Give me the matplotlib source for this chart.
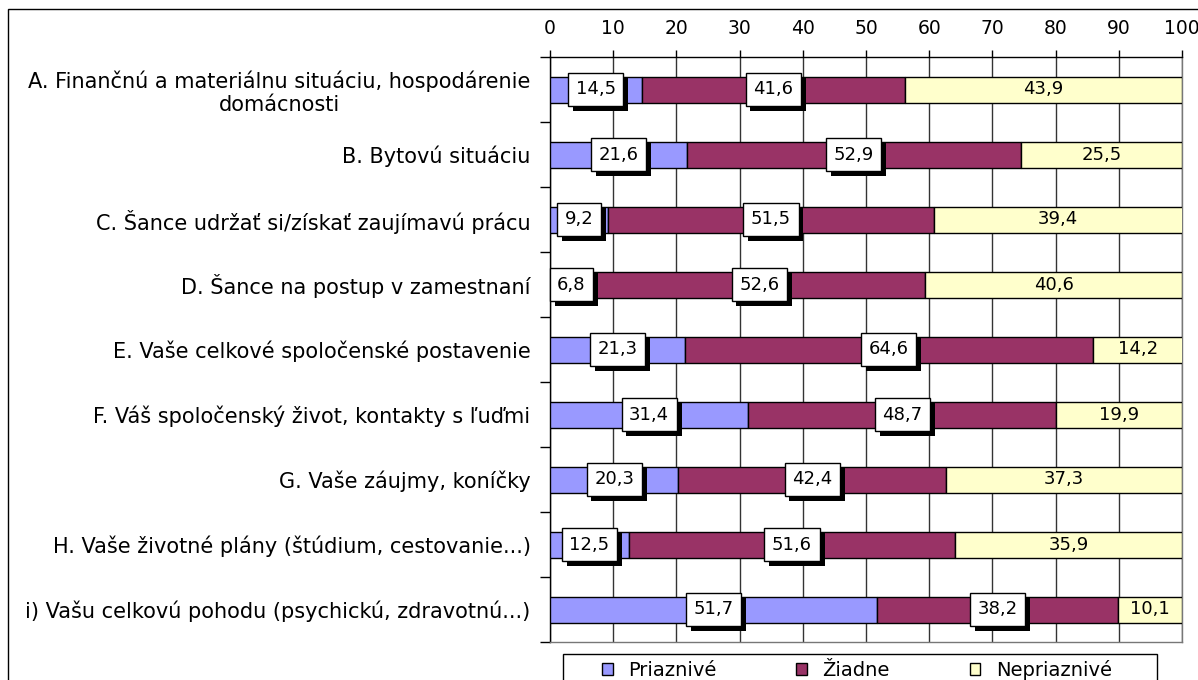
import matplotlib.pyplot as plt
import matplotlib.patheffects as pe
from matplotlib.patches import Patch, Rectangle

plt.rcParams['font.family'] = ['DejaVu Sans']

categories = [
    'A. Finančnú a materiálnu situáciu, hospodárenie\ndomácnosti',
    'B. Bytovú situáciu',
    'C. Šance udržať si/získať zaujímavú prácu',
    'D. Šance na postup v zamestnaní',
    'E. Vaše celkové spoločenské postavenie',
    'F. Váš spoločenský život, kontakty s ľuďmi',
    'G. Vaše záujmy, koníčky',
    'H. Vaše životné plány (štúdium, cestovanie...)',
    'i) Vašu celkovú pohodu (psychickú, zdravotnú...)',
]
priaznive = [14.5, 21.6, 9.2, 6.8, 21.3, 31.4, 20.3, 12.5, 51.7]
ziadne = [41.6, 52.9, 51.5, 52.6, 64.6, 48.7, 42.4, 51.6, 38.2]
nepriaznive = [43.9, 25.5, 39.4, 40.6, 14.2, 19.9, 37.3, 35.9, 10.1]
series_names = ['Priaznivé', 'Žiadne', 'Nepriaznivé']
colors = ['#9999FF', '#993366', '#FFFFCC']

fig = plt.figure(figsize=(11.98, 6.8), dpi=100)
ax = fig.add_axes([550 / 1198, 1 - 642 / 680, 632 / 1198, 585 / 680])

# black drop shadow under the label boxes
shadow = [pe.SimplePatchShadow(offset=(3.5, -3.5), shadow_rgbFace='black', alpha=1), pe.Normal()]

y = list(range(len(categories)))
left = [0] * len(y)
for vals, col, name in zip([priaznive, ziadne, nepriaznive], colors, series_names):
    ax.barh(y, vals, left=left, height=0.4, color=col, edgecolor='black',
            linewidth=1, zorder=3, label=name)
    for i, v in enumerate(vals):
        cx = left[i] + v / 2
        lbl = f'{v:.1f}'.replace('.', ',')
        if name == 'Nepriaznivé':
            ax.text(cx, i, lbl, ha='center', va='center', fontsize=13, zorder=6)
        else:
            t = ax.text(cx, i, lbl, ha='center', va='center', fontsize=13, zorder=6,
                        bbox=dict(boxstyle='square,pad=0.42', fc='white', ec='black', lw=1))
            t.get_bbox_patch().set_path_effects(shadow)
    left = [a + b for a, b in zip(left, vals)]

ax.set_xlim(0, 100)
ax.set_ylim(len(y) - 0.5, -0.5)
ax.set_xticks(range(0, 101, 10))
ax.xaxis.tick_top()
ax.tick_params(axis='x', direction='out', length=5, width=1, labelsize=13.5, pad=9)
ax.grid(axis='x', color='#333333', linewidth=1, zorder=0)

ax.set_yticks([i - 0.5 for i in range(len(y) + 1)])
ax.set_yticklabels([])
ax.set_yticks(y, minor=True)
ax.set_yticklabels(categories, minor=True, fontsize=15, multialignment='center')
ax.tick_params(axis='y', which='major', direction='out', length=7, width=1)
ax.tick_params(axis='y', which='minor', length=0, pad=14)

for s in ax.spines.values():
    s.set_color('black')
    s.set_linewidth(1)
ax.spines['bottom'].set_color('#777777')
ax.spines['right'].set_color('#777777')

# legend (frame drawn separately, it runs off the bottom edge)
handles = [Patch(facecolor=c, edgecolor='black', label=n) for c, n in zip(colors, series_names)]
fig.legend(handles=handles, loc='center left', ncol=3,
           bbox_to_anchor=(602 / 1198, 1 - 670 / 680),
           fontsize=14, frameon=False, handlelength=0.55, handleheight=0.55,
           handletextpad=0.8, columnspacing=4.1, borderpad=0, borderaxespad=0)
fig.add_artist(Rectangle((563 / 1198, -0.1), 594 / 1198, 0.1 + 1 - 654 / 680,
                         transform=fig.transFigure, fill=False, edgecolor='black', linewidth=1))

fig.add_artist(Rectangle((8 / 1198, -0.1), 1.1, 1.1 - 9 / 680, transform=fig.transFigure,
                         fill=False, edgecolor='black', linewidth=1))

fig.savefig('out.png', dpi=100)
